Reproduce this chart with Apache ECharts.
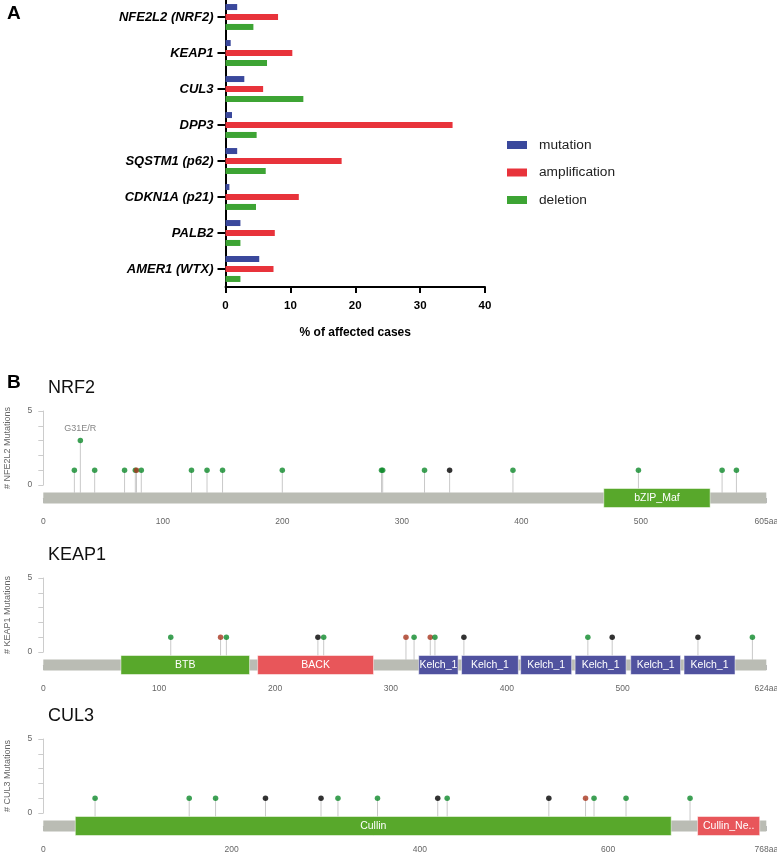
<!DOCTYPE html>
<html><head><meta charset="utf-8">
<script src="https://cdn.jsdelivr.net/npm/echarts@6/dist/echarts.min.js"></script>
<style>html,body{margin:0;padding:0;background:#fff}#c{width:777px;height:853px}</style>
</head><body><div id="c"></div>
<script>
// ---------- Panel A data ----------
const categories = ['NFE2L2 (NRF2)','KEAP1','CUL3','DPP3','SQSTM1 (p62)','CDKN1A (p21)','PALB2','AMER1 (WTX)'];
const mutation      = [1.8, 0.8, 2.9, 1.0, 1.8, 0.6, 2.3, 5.2];
const amplification = [8.1, 10.3, 5.8, 35.0, 17.9, 11.3, 7.6, 7.4];
const deletion      = [4.3, 6.4, 12.0, 4.8, 6.2, 4.7, 2.3, 2.3];
const barTicks = [0, 10, 20, 30, 40];

// ---------- Panel B data ----------
// type: M = missense (green), T = truncating (black), I = inframe/other (red)
const nrf2Length = 605;
const nrf2Pos   = [26, 31, 43, 68, 77, 78, 82, 124, 137, 150, 200, 283, 284, 319, 340, 393, 498, 568, 580];
const nrf2Count = [1, 3, 1, 1, 1, 1, 1, 1, 1, 1, 1, 1, 1, 1, 1, 1, 1, 1, 1];
const nrf2Type  = ['M','M','M','M','M','I','M','M','M','M','M','M','M','M','T','M','M','M','M'];
const nrf2Annot = [31, 'G31E/R'];
const nrf2DomName  = ['bZIP_Maf'];
const nrf2DomStart = [469];
const nrf2DomEnd   = [558];

const keap1Length = 624;
const keap1Pos   = [110, 153, 158, 237, 242, 313, 320, 334, 338, 363, 470, 491, 565, 612];
const keap1Count = [1, 1, 1, 1, 1, 1, 1, 1, 1, 1, 1, 1, 1, 1];
const keap1Type  = ['M','I','M','T','M','I','M','I','M','T','M','T','T','M'];
const keap1DomName  = ['BTB','BACK','Kelch_1','Kelch_1','Kelch_1','Kelch_1','Kelch_1','Kelch_1'];
const keap1DomStart = [67, 185, 324, 361, 412, 459, 507, 553];
const keap1DomEnd   = [178, 285, 358, 410, 456, 503, 550, 597];

const cul3Length = 768;
const cul3Pos   = [55, 155, 183, 236, 295, 313, 355, 419, 429, 537, 576, 585, 619, 687];
const cul3Count = [1, 1, 1, 1, 1, 1, 1, 1, 1, 1, 1, 1, 1, 1];
const cul3Type  = ['M','M','M','T','T','M','M','T','M','T','I','M','M','M'];
const cul3DomName  = ['Cullin','Cullin_Ne..'];
const cul3DomStart = [34, 695];
const cul3DomEnd   = [667, 761];

// ---------- styling ----------
const FA = "'Liberation Sans', Arial, sans-serif";
const FB = "'Liberation Sans Narrow', 'Liberation Sans', Arial, sans-serif";
const typeColor = {M: '#0e8a2a', T: '#000000', I: '#a8361e'};
const domColor = {BTB:'#58a82b', BACK:'#e8565a', Kelch_1:'#50529f', bZIP_Maf:'#58a82b', Cullin:'#58a82b', 'Cullin_Ne..':'#e8565a'};
const STEM_DROP = 8;

const chart = echarts.init(document.getElementById('c'), null, {renderer:'canvas'});

const panels = [
  {title:'NRF2', yname:'# NFE2L2 Mutations', L:nrf2Length, pos:nrf2Pos, cnt:nrf2Count, typ:nrf2Type, dn:nrf2DomName, ds:nrf2DomStart, de:nrf2DomEnd, up:411, tick:50, lab:100, annot:nrf2Annot},
  {title:'KEAP1', yname:'# KEAP1 Mutations', L:keap1Length, pos:keap1Pos, cnt:keap1Count, typ:keap1Type, dn:keap1DomName, ds:keap1DomStart, de:keap1DomEnd, up:578, tick:50, lab:100},
  {title:'CUL3', yname:'# CUL3 Mutations', L:cul3Length, pos:cul3Pos, cnt:cul3Count, typ:cul3Type, dn:cul3DomName, ds:cul3DomStart, de:cul3DomEnd, up:739, tick:100, lab:200}
];

const G = {outerBoundsMode:'none', containLabel:false};
const grid = [Object.assign({left:225.5, top:-1, width:259.5, height:288}, G)];
const xAxis = [{
  gridIndex:0, type:'value', min:0, max:40, interval:10,
  axisLine:{show:true, lineStyle:{color:'#000', width:2}},
  axisTick:{show:true, length:6, lineStyle:{color:'#000', width:2}},
  axisLabel:{color:'#000', fontWeight:'bold', fontSize:11.5, fontFamily:FA, margin:13,
    formatter: v => barTicks.includes(v) ? String(v) : ''},
  splitLine:{show:false},
  name:'% of affected cases', nameLocation:'middle', nameGap:40,
  nameTextStyle:{color:'#000', fontWeight:'bold', fontSize:12, fontFamily:FA}
}];
const yAxis = [{
  gridIndex:0, type:'category', data:categories, inverse:true,
  axisLine:{show:true, lineStyle:{color:'#000', width:2}},
  axisTick:{show:true, alignWithLabel:true, length:8, lineStyle:{color:'#000', width:2}},
  axisLabel:{color:'#000', fontWeight:'bold', fontStyle:'italic', fontSize:13, fontFamily:FA, margin:12}
}];
const series = [
  {name:'mutation', type:'bar', data:mutation, barWidth:6, barGap:'66%', itemStyle:{color:'#3a489c'}},
  {name:'amplification', type:'bar', data:amplification, barWidth:6, barGap:'66%', itemStyle:{color:'#e8333b'}},
  {name:'deletion', type:'bar', data:deletion, barWidth:6, barGap:'66%', itemStyle:{color:'#3da434'}}
];
const title = [
  {text:'A', left:7, top:4, padding:0, textStyle:{fontSize:19, fontWeight:'bold', color:'#000', fontFamily:FA}},
  {text:'B', left:7, top:373, padding:0, textStyle:{fontSize:19, fontWeight:'bold', color:'#000', fontFamily:FA}}
];

panels.forEach((p, k) => {
  const gu = grid.length, gl = gu + 1;
  grid.push(Object.assign({left:43.3, width:723, top:p.up, height:74}, G));
  grid.push(Object.assign({left:43.3, width:723, top:p.up + 74, height:26}, G));
  title.push({text:p.title, left:48, top:p.up - 32, padding:0, textStyle:{fontSize:18, fontWeight:'normal', color:'#111', fontFamily:FA}});
  xAxis.push({gridIndex:gu, type:'value', min:0, max:p.L, show:false});
  xAxis.push({gridIndex:gl, type:'value', min:0, max:p.L, interval:p.tick,
    axisLine:{show:true, lineStyle:{color:'#b8b8b8', width:1}},
    axisTick:{show:true, length:5, lineStyle:{color:'#b8b8b8'}},
    axisLabel:{color:'#666', fontSize:8.5, fontFamily:FB, margin:6, showMaxLabel:true, showMinLabel:true,
      formatter: v => v === p.L ? p.L + 'aa' : ((v % p.lab === 0 && v <= p.L - 50) ? String(v) : '')},
    splitLine:{show:false}});
  yAxis.push({gridIndex:gu, type:'value', min:0, max:5, interval:1, offset:8,
    axisLine:{show:true, lineStyle:{color:'#cccccc'}},
    axisTick:{show:true, length:5, lineStyle:{color:'#cccccc'}},
    axisLabel:{color:'#666', fontSize:8.5, fontFamily:FB, margin:3, formatter: v => (v === 0 || v === 5) ? String(v) : ''},
    splitLine:{show:false},
    name:p.yname, nameLocation:'middle', nameGap:23, nameRotate:90,
    nameTextStyle:{color:'#666', fontSize:9, fontFamily:FB}});
  yAxis.push({gridIndex:gl, type:'value', min:-1, max:1, show:false});

  // stems
  series.push({type:'custom', xAxisIndex:gu, yAxisIndex:gu, silent:true, clip:false, z:2,
    data:p.pos.map((x, i) => [x, p.cnt[i]]),
    renderItem:(params, api) => {
      const t = api.coord([api.value(0), api.value(1)]);
      const b = api.coord([api.value(0), 0]);
      return {type:'line', shape:{x1:t[0], y1:t[1], x2:b[0], y2:b[1] + STEM_DROP},
        style:{stroke:'#c9c9c9', lineWidth:1}};
    }});
  // points
  series.push({type:'scatter', xAxisIndex:gu, yAxisIndex:gu, symbolSize:5.5, z:4, silent:true,
    data:p.pos.map((x, i) => {
      const d = {value:[x, p.cnt[i]], itemStyle:{color:typeColor[p.typ[i]]}};
      if (p.annot && p.annot[0] === x) d.label = {show:true, formatter:p.annot[1], position:'top', distance:5, color:'#666', fontSize:9, fontFamily:FB};
      return d;
    })});
  // protein backbone
  series.push({type:'custom', xAxisIndex:gl, yAxisIndex:gl, silent:true, clip:false, z:1,
    data:[[0, p.L]],
    renderItem:(params, api) => {
      const s = api.coord([api.value(0), 0]), e = api.coord([api.value(1), 0]);
      return {type:'rect', shape:{x:s[0], y:s[1] - 5.5, width:e[0] - s[0], height:11}, style:{fill:'#babcb4'}};
    }});
  // domains
  series.push({type:'custom', xAxisIndex:gl, yAxisIndex:gl, silent:true, clip:false, z:3,
    data:p.ds.map((s, i) => [s, p.de[i]]),
    renderItem:(params, api) => {
      const s = api.coord([api.value(0), 0]), e = api.coord([api.value(1), 0]);
      const nm = p.dn[params.dataIndex];
      return {type:'group', children:[
        {type:'rect', shape:{x:s[0], y:s[1] - 9.5, width:e[0] - s[0], height:19},
          style:{fill:domColor[nm], stroke:'rgba(255,255,255,0.5)', lineWidth:1}},
        {type:'text', style:{text:nm, x:(s[0] + e[0]) / 2, y:s[1], textAlign:'center', textVerticalAlign:'middle',
          fill:'#fff', font:"10.5px 'Liberation Sans Narrow', 'Liberation Sans', sans-serif"}}
      ]};
    }});
});

chart.setOption({
  animation:false,
  title, grid, xAxis, yAxis, series,
  legend:{orient:'vertical', left:502, top:133, itemWidth:20, itemHeight:8, itemGap:13.5, icon:'rect',
    data:['mutation','amplification','deletion'],
    textStyle:{fontSize:13.7, color:'#222', lineHeight:14, padding:[0,0,0,7], fontFamily:FA}}
});
</script></body></html>
